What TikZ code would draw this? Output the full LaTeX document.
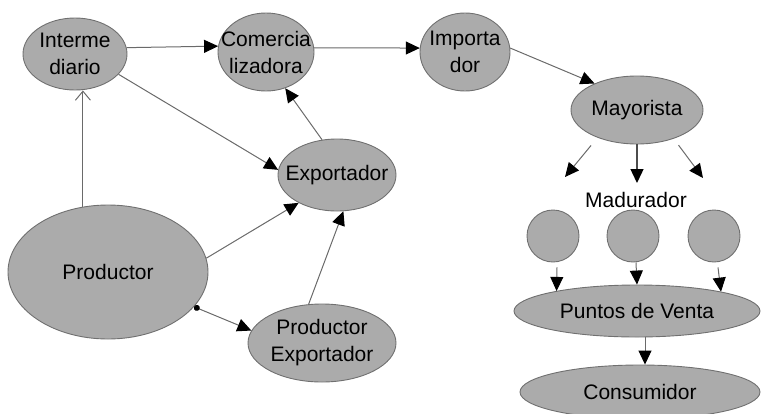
\documentclass[tikz,border=0pt]{standalone}
\usepackage{fontspec}
\setmainfont{Liberation Sans}
\usetikzlibrary{shapes.geometric,arrows.meta}
\definecolor{nodefill}{HTML}{ABABAB}
\definecolor{nodeline}{HTML}{707070}
\definecolor{arrline}{HTML}{6A6A6A}
\begin{document}
\begin{tikzpicture}[x=1pt,y=-1pt,
  ell/.style={ellipse,draw=nodeline,fill=nodefill,line width=0.9pt,inner sep=0pt},
  circ/.style={circle,draw=nodeline,fill=nodefill,line width=0.9pt,inner sep=0pt,minimum size=52pt},
  txt/.style={font=\fontsize{21}{27}\selectfont,align=center,text=black},
  arr/.style={draw=arrline,line width=1pt,-{Triangle[length=14pt 0,width=13pt 0,black]}},
  openarr/.style={draw=arrline,line width=1pt,-{Straight Barb[length=9pt,width=15pt,arrline]}}]
\useasboundingbox (0,0) rectangle (761,413);
% nodes
\node[ell,minimum width=104pt,minimum height=72pt,label={[txt]center:Interme\\diario}] (int) at (75,54) {};
\node[ell,minimum width=96pt,minimum height=78pt,label={[txt]center:Comercia\\lizadora}] (com) at (266,52) {};
\node[ell,minimum width=90pt,minimum height=78pt,label={[txt]center:Importa\\dor}] (imp) at (465,52) {};
\node[ell,minimum width=132pt,minimum height=68pt,label={[txt]center:Mayorista}] (may) at (637,110) {};
\node[ell,minimum width=118pt,minimum height=72pt,label={[txt]center:Exportador}] (exp) at (337,175) {};
\node[ell,minimum width=200pt,minimum height=134pt,label={[txt]center:Productor}] (prod) at (108,272) {};
\node[ell,minimum width=148pt,minimum height=78pt,label={[txt]center:Productor\\Exportador}] (pe) at (322,343) {};
\node[txt,anchor=base] (mad) at (636,207) {Madurador};
\node[circ] (c1) at (553,236) {};
\node[circ] (c2) at (633,236) {};
\node[circ] (c3) at (714,236) {};
\node[ell,minimum width=246pt,minimum height=52pt,label={[txt]center:Puntos de Venta}] (pv) at (637,311) {};
\node[ell,minimum width=240pt,minimum height=54pt,label={[txt]center:Consumidor}] (cons) at (640,392) {};
\coordinate (m1) at (565,177);
\coordinate (m2) at (637,183);
\coordinate (m3) at (703,178);
% connectors
\draw[arr] (int.7) -- (com.173);
\draw[arr] (com.5) -- (imp.175);
\draw[arr] (imp.5) -- (may.148);
\draw[arr] (int.-25) -- (exp.175);
\draw[arr] (exp.113) -- (com.-62);
\draw[openarr] (prod.111) -- (prod.111 |- int.south);
\draw[arr] (prod.8) -- (exp.216);
\draw[arr] (pe.109) -- (exp.-80);
\draw[draw=arrline,line width=1pt,{Circle[length=6pt 0,black]}-{Triangle[length=14pt 0,width=13pt 0,black]}] (prod.-22) -- (pe.170);
\draw[arr,shorten <=10pt] (may.215) -- (m1);
\draw[arr,draw=black!70,line width=1.4pt] (may.south) -- (m2);
\draw[arr,shorten <=8pt] (may.-38) -- (m3);
\draw[arr] ([xshift=4pt,yshift=-5pt]c1.south) -- (pv.166);
\draw[arr] ([xshift=3pt]c2.south) -- (pv.north);
\draw[arr] ([xshift=4pt,yshift=-5pt]c3.south) -- (pv.13);
\draw[arr] ([xshift=8pt]pv.south) -- ([xshift=5pt]cons.north);
\end{tikzpicture}
\end{document}
